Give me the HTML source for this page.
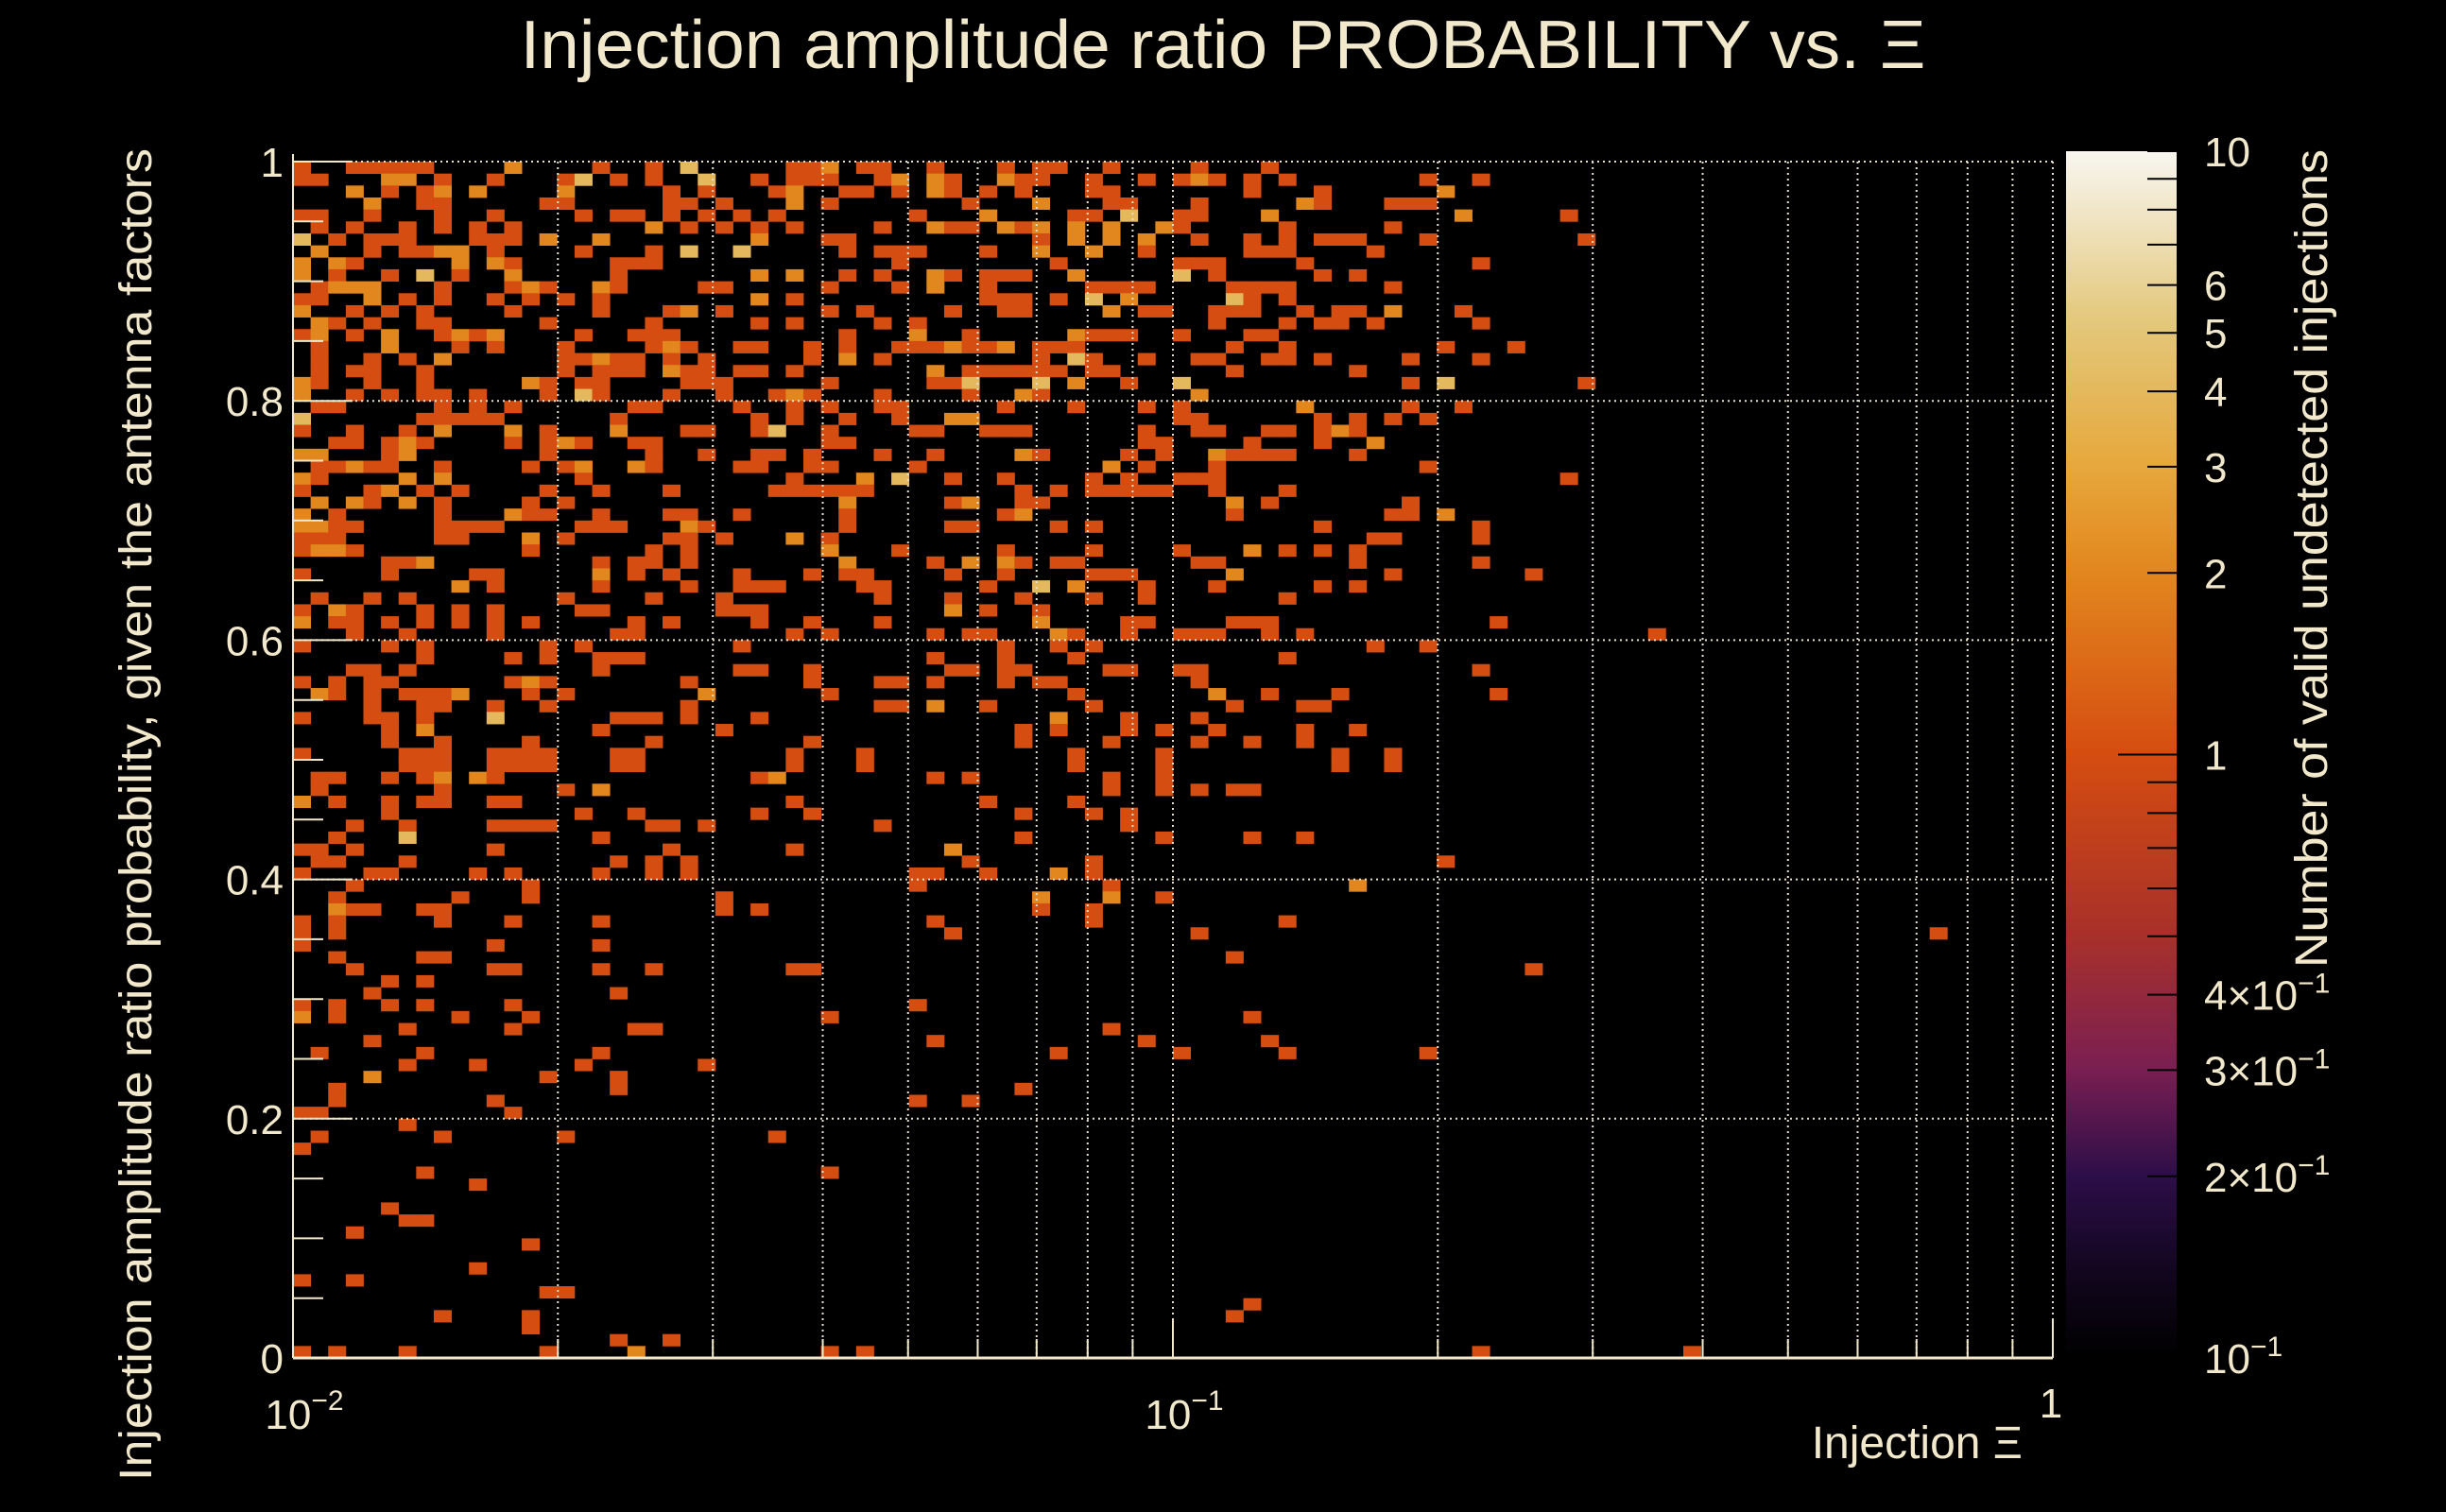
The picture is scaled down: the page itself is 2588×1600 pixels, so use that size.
<!DOCTYPE html>
<html><head><meta charset="utf-8">
<style>
html,body{margin:0;padding:0;background:#000;}
svg{display:block;}
text{font-family:"Liberation Sans",sans-serif;fill:#f2e8cc;}
</style></head>
<body>
<svg id="chart" xmlns="http://www.w3.org/2000/svg" width="2588" height="1600" viewBox="0 0 2588 1600">
<defs>
<linearGradient id="cmap" x1="0" y1="1" x2="0" y2="0">
<stop offset="0" stop-color="#000000"/>
<stop offset="0.07" stop-color="#12061e"/>
<stop offset="0.15" stop-color="#2c0e48"/>
<stop offset="0.24" stop-color="#7a1f52"/>
<stop offset="0.35" stop-color="#a8302a"/>
<stop offset="0.5" stop-color="#d54d10"/>
<stop offset="0.65" stop-color="#e2861e"/>
<stop offset="0.74" stop-color="#e6a83c"/>
<stop offset="0.86" stop-color="#e3c87c"/>
<stop offset="1" stop-color="#f8f6f0"/>
</linearGradient>
</defs>
<rect x="0" y="0" width="2588" height="1600" fill="#000"/>
<g id="cells"></g>
<g id="grid"></g>
<g id="axes"></g>
<text x="1294" y="72" font-size="72" text-anchor="middle" textLength="1487" lengthAdjust="spacingAndGlyphs">Injection amplitude ratio PROBABILITY vs.  Ξ</text>
<text transform="translate(160,862) rotate(-90)" font-size="48" text-anchor="middle" textLength="1410" lengthAdjust="spacingAndGlyphs">Injection amplitude ratio probability, given the antenna factors</text>
<text x="2140" y="1543" font-size="48" text-anchor="end">Injection Ξ</text>
<rect x="2186" y="160" width="117" height="1277" fill="url(#cmap)"/>
<g id="cbar"></g>
<text transform="translate(2462,591) rotate(-90)" font-size="48" text-anchor="middle" textLength="866" lengthAdjust="spacingAndGlyphs">Number of valid undetected injections</text>
</svg>
<script>
// ---- data: each row (top row = probability 0.99-1.00) lists filled x-bins; suffix o = 2 counts, l = 4 counts, else 1
const rowsTop = [
"0 3-7 12o 17 20 22l 28-29 30o 32-33 36 40 42-43 46 51 55",
"0-1 5o 6o 8 11 15 16l 18 20 23l 26 28-30 33 34o 36o 37 40o 41-42 45 48 50 51o 52 54 56 64 67",
"3o 5 7 8o 10o 15o 21 23 27 28o 31-32 34 36o 37 39 41 45-46 54 58 65o",
"4o 7-8 14-15 21-22 24 28o 30 38 42o 46-47 51 57o 58 62-64",
"0-1 4 8 11 16 18-19 21 23 25 27 35 39o 44-45 47l 50-51 55o 66o 72",
"1 3 6 8 10 12 20o 22 24 26 28 33 36o 37-38 40o 41 42o 44o 46o 49o 50 56 62",
"0l 2 4-6 10-12 14o 17o 26o 30-31 42 44o 46o 48o 51 54 56 58-60 64 73",
"1o 4 6-7 8o 9o 11 16 20 22l 25l 31 33-35 39 42o 45o 48 54-56 61",
"0o 2o 3 9o 11o 12 18-20 34 43 50-52 57 67",
"0o 2 5 7l 9 12o 18 26o 28o 31 33 36o 37 39-41 44o 50l 52 58 60",
"1 2o 3o 4o 8 12 13o 14 17o 18 23-24 30 34 36o 39 45-48 53-56 62",
"0-1 4o 6 8 11 13 15 17 26o 28 39-41 43 45l 47o 53l 54 56",
"0o 3 5 7 12 17 21 22o 24 30 32 37 40-41 46o 48-49 52-54 57 59-60 62o 66",
"1o 2 4 7-8 14 20 26 28 33 35 52 56 58-59 61 67",
"0 1o 3 5o 8 9o 10 11o 16 19-21 31 35o 38 44o 45-47 50 54-55",
"1 5o 9 11 15 20 21o 22 25-26 29 31 34-36 37o 38-39 40o 42-44 53 56 65 69",
"1 4 6 8o 15-16 17o 18-19 21 23 29 31o 33 42 44l 45 48 51-52 55-56 58 63 67",
"1 3-4 7 15 17-19 21o 22-23 25-26 28 36o 38-43 45-46 53 60",
"0o 1 4 7 13o 14 16-17 22-24 30 36-37 38l 42l 44o 47 50l 63 65l 73",
"0o 3 5 7-8 10 14 16l 17 21 24 27 28o 29 33 38 41o 42 51o",
"1-2 8 10 12 19-20 25 28 30 33-34 40 44 48 50 57o 63 66",
"0l 7-11 18 26 28 31 34 37o 38o 50-51 58 60 62 64",
"0 3 6 8o 12o 14 18o 22-23 26 27l 30 35-36 39-41 48 51-52 55-56 58 59o 60",
"2-3 5 6o 7 12 14 15o 16 19-20 30-31 48-49 54 58 61o",
"0o 1o 5 6o 14 20 23 26-27 29 33 36 41o 42 47 49 52o 53-56 60",
"1-2 3o 4-5 8 13 15 16o 19o 20 25-26 29-30 35 46o 48 52 64",
"0o 1 6o 8o 16 28 32o 34l 37 40 45 47 50-52 72",
"0 4 5o 7 9 14 17 21 27-32 41 43 45-49 52 56",
"1o 3o 4 6o 8 13 15 31o 37 38o 41-42 53o 55 63",
"0o 2 8 12o 13-14 17 21-22 25 31 40 41o 53 62-63 65o",
"0o 1o 2-3 8-11 16-18 22o 23 31 37-38 43 45 58 67",
"0-2 8-9 13o 15 21-22 24 28o 30 61-62 67",
"0 1o 2o 3 13 20 22 30o 34 40 45 50 54o 56 58 60",
"5-6 7o 17 19-20 22 31o 36 38o 40o 41 43-44 51-52 60 67",
"0 5 10-11 17o 19 21 25 29 31-32 37 40 45-47 53o 62 70",
"9o 11 17 22 25-27 32-33 39 42l 44o 48 52 58 60",
"1 4 6 15 20 24 33 37 41 45 48 56",
"0 2o 3 7 9 11 16-17 24-26 37o 39 42",
"0o 2-3 5 7 9 11 13 19 21 26 29 33 42o 47-48 53-55 68",
"3 6 11 18-19 28 30 36 38-39 43o 44 47 50-52 55 57 77",
"0 5 7 14 16 25 40 43 45 61 64",
"7 12 14 17-19 36 40 44 56",
"3-4 6 17 25-26 29 37-38 40-41 46-47 50-51 67",
"0 2 4-5 12 13o 14 22 29 33-34 36 40 42-43 51",
"1o 2 4 6-8 9o 13 15 23o 30 44 52o 55 59 68",
"4 7-8 11 14 22 33-34 36o 39 45 53 57-58",
"0 4-5 7 11l 18-20 22 26 43o 47 51",
"5 7o 17 24 41 43 47 49 52 57 60",
"5 8 13 20 29 41 46 51 54 57",
"0 6-8 11-14 18-19 28 32 44 49 59 62"
];
const rowsBottom = [
"6-8 11-14 18-19 28 32 44 49 59 62",
"1-2 5 7 8o 10o 11 26 27o 36 38 46 49",
"1 8 15 17o 46 49 51 53-54",
"0o 2 5 7-8 11-12 28 39 44",
"5 16 19 26 29 41 45 47",
"3 6 11-14 20-21 23 33 47",
"2 6l 17 41 49 54 57",
"0-1 3 11 21 28 37o",
"1-2 6 18 20 22 38 45 65",
"0 4-5 10 12 17 20 22 35-36 39 43o 45",
"3 13 35 46 60o",
"2 9 13 24 42o 46o 49",
"2o 3-4 7-8 24 26 42 45",
"0 2 8 12 17 36 45 56",
"0 2 37 51 93",
"0 11 17",
"2 7-8 53",
"3 11-12 17 20 28-29 70",
"5 7",
"4 18",
"0 2 5 7 12 35",
"0o 2 9 13 30 54",
"6 12 19-20 46",
"4 36 48 55",
"1 7 17 43 50 56 64",
"6 10 16 23",
"4o 14 18",
"2 18 41",
"2 11 35 38",
"0-1 12",
"6",
"1 8 15 27",
"0",
"",
"7 30",
"10",
"",
"5",
"6-7",
"3",
"13",
"",
"10",
"0 3",
"14-15",
"54",
"8 13 53",
"13",
"18 21",
"0 2 6 14 19o 30 32 67 79"
];
const xTickValues = [0.01, 0.1, 1];
const xTickSup = ["\u22122", "\u22121", ""];
const yTickValues = [0, 0.2, 0.4, 0.6, 0.8, 1];
const yTickLabels = ["0", "0.2", "0.4", "0.6", "0.8", "1"];
const zTickValues = [10, 6, 5, 4, 3, 2, 1, 0.4, 0.3, 0.2, 0.1];
const zTickLabels = ["10", "6", "5", "4", "3", "2", "1", "4×10", "3×10", "2×10", "10"];
const zTickSup = ["", "", "", "", "", "", "", "\u22121", "\u22121", "\u22121", "\u22121"];

const NS = "http://www.w3.org/2000/svg";
const X0 = 310, X1 = 2172, Y0 = 171, Y1 = 1437;
const NX = 100, NY = 100;
const CB0 = 160, CB1 = 1437;
function xScale(v){ return X0 + (Math.log10(v) + 2) / 2 * (X1 - X0); }
function yScale(v){ return Y1 - v * (Y1 - Y0); }
function zScale(v){ return CB1 - (Math.log10(v) + 1) / 2 * (CB1 - CB0); }
const stops = [[0,[0,0,0]],[0.07,[18,6,30]],[0.15,[44,14,72]],[0.24,[122,31,82]],[0.35,[168,48,42]],[0.5,[213,77,16]],[0.65,[226,134,30]],[0.74,[230,168,60]],[0.86,[227,200,124]],[1,[248,246,240]]];
function colorFor(v){
  const t = (Math.log10(v) + 1) / 2;
  for (let i = 1; i < stops.length; i++) {
    if (t <= stops[i][0]) {
      const a = stops[i-1], b = stops[i], f = (t - a[0]) / (b[0] - a[0]);
      const c = a[1].map((q, k) => Math.round(q + (b[1][k] - q) * f));
      return "rgb(" + c.join(",") + ")";
    }
  }
  return "rgb(248,246,240)";
}
function mk(tag, attrs, parent){
  const e = document.createElementNS(NS, tag);
  for (const k in attrs) e.setAttribute(k, attrs[k]);
  parent.appendChild(e);
  return e;
}
const allRows = rowsTop.concat(rowsBottom);
const cellsG = document.getElementById("cells");
allRows.forEach((row, r) => {
  const yHi = 1 - r / NY, yLo = 1 - (r + 1) / NY;
  row.split(" ").filter(s => s.length).forEach(tok => {
    let val = 1;
    if (tok.endsWith("o")) { val = 2; tok = tok.slice(0, -1); }
    else if (tok.endsWith("l")) { val = 4; tok = tok.slice(0, -1); }
    const parts = tok.split("-").map(Number);
    const a = parts[0], b = parts.length > 1 ? parts[1] : parts[0];
    for (let c = a; c <= b; c++) {
      const xa = xScale(Math.pow(10, -2 + c * 2 / NX));
      const xb = xScale(Math.pow(10, -2 + (c + 1) * 2 / NX));
      const rect = mk("rect", {x: xa.toFixed(2), y: yScale(yHi).toFixed(2), width: (xb - xa + 0.4).toFixed(2), height: (yScale(yLo) - yScale(yHi) + 0.4).toFixed(2), fill: colorFor(val)}, cellsG);
      
      
    }
  });
});
// grid
const gridG = document.getElementById("grid");
const gridX = [];
for (let d = -2; d < 0; d++) for (let m = 1; m <= 9; m++) { const v = m * Math.pow(10, d); if (v > 0.01) gridX.push(v); }
gridX.push(1);
gridX.forEach(v => {
  const x = xScale(v);
  const l = mk("line", {x1: x, x2: x, y1: Y0, y2: Y1, stroke: "#e8e0cc", "stroke-width": 2, "stroke-dasharray": "2 4"}, gridG);
  
  
});
yTickValues.forEach(v => {
  if (v === 0) return;
  const y = yScale(v);
  const l = mk("line", {x1: X0, x2: X1, y1: y, y2: y, stroke: "#e8e0cc", "stroke-width": 2, "stroke-dasharray": "2 4"}, gridG);
  
  
});
// axes
const axG = document.getElementById("axes");
const yAxis = mk("line", {x1: X0, x2: X0, y1: Y0 - 8, y2: Y1, stroke: "#f2e8cc", "stroke-width": 2}, axG);


const xAxis = mk("line", {x1: X0, x2: X1, y1: Y1, y2: Y1, stroke: "#f2e8cc", "stroke-width": 3}, axG);


for (let i = 0; i <= 20; i++) {
  const v = i * 0.05, y = yScale(v), major = (i % 4 === 0);
  const t = mk("line", {x1: X0, x2: X0 + (major ? 63 : 32), y1: y, y2: y, stroke: "#f2e8cc", "stroke-width": 2}, axG);
  
  
}
yTickValues.forEach((v, i) => {
  const t = mk("text", {x: 300, y: yScale(v) + 16, "font-size": 44, "text-anchor": "end"}, axG);
  t.textContent = yTickLabels[i];
  
  
});
gridX.concat([0.01]).forEach(v => {
  const x = xScale(v), major = Math.abs(Math.log10(v) - Math.round(Math.log10(v))) < 1e-9;
  const t = mk("line", {x1: x, x2: x, y1: Y1, y2: Y1 - (major ? 40 : 20), stroke: "#f2e8cc", "stroke-width": 2}, axG);
  
  
});
xTickValues.forEach((v, i) => {
  const x = xScale(v);
  const t = mk("text", {x: x, y: 1512, "font-size": 44, "text-anchor": "middle"}, axG);
  
  
  if (xTickSup[i]) {
    t.textContent = "10";
    const s = mk("tspan", {dy: -20, "font-size": 30}, t);
    s.textContent = xTickSup[i];
    t.setAttribute("x", x + 12);
  } else {
    t.textContent = "1";
    t.setAttribute("y", 1500);
    t.setAttribute("x", x - 2);
  }
});
// colorbar axis
const cbG = document.getElementById("cbar");
const zMinor = [0.1,0.2,0.3,0.4,0.5,0.6,0.7,0.8,0.9,1,2,3,4,5,6,7,8,9,10];
zMinor.forEach(v => {
  const y = zScale(v);
  const t = mk("line", {x1: v === 1 ? 2241 : 2272, x2: 2303, y1: y, y2: y, stroke: "#000", "stroke-width": 2}, cbG);
  
  
});
zTickValues.forEach((v, i) => {
  const t = mk("text", {x: 2332, y: zScale(v) + 16, "font-size": 44}, cbG);
  t.textContent = zTickLabels[i];
  
  
  if (zTickSup[i]) {
    const s = mk("tspan", {dy: -18, "font-size": 30}, t);
    s.textContent = zTickSup[i];
  }
});
</script>
</body></html>
